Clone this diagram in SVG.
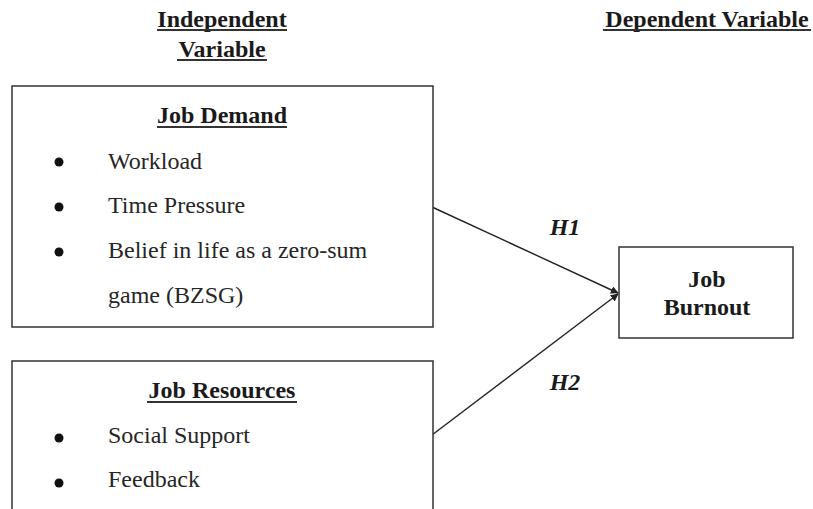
<svg xmlns="http://www.w3.org/2000/svg" width="813" height="509" viewBox="0 0 813 509">
<style>
.box{fill:#fff;stroke:#333;stroke-width:1.5}
.h{font-family:"Liberation Serif","Times New Roman",serif;font-weight:bold;font-size:24px;fill:#1a1a1a}
.t{font-family:"Liberation Serif","Times New Roman",serif;font-size:24px;fill:#262626}
.hi{font-family:"Liberation Serif","Times New Roman",serif;font-weight:bold;font-style:italic;font-size:24px;fill:#1a1a1a}
.ul{stroke:#333;stroke-width:2}
.bul{fill:#111}
.edge{stroke:#222;stroke-width:1.4;fill:none}
</style>
<defs>
<marker id="arr" viewBox="0 0 10 10" refX="9" refY="5" markerWidth="8" markerHeight="8" markerUnits="userSpaceOnUse" orient="auto">
<path d="M0,0 L10,5 L0,10 z" fill="#222"/>
</marker>
</defs>
<g id="labels">
<text class="h" x="222" y="27" text-anchor="middle">Independent</text>
<line class="ul" x1="157" y1="30" x2="287" y2="30"/>
<text class="h" x="222" y="57" text-anchor="middle">Variable</text>
<line class="ul" x1="177" y1="60" x2="267" y2="60"/>
<text class="h" x="707" y="27" text-anchor="middle">Dependent Variable</text>
<line class="ul" x1="603" y1="30" x2="811" y2="30"/>
</g>
<g id="connectors">
<line class="edge" x1="432" y1="207" x2="618" y2="293" marker-end="url(#arr)"/>
<line class="edge" x1="432" y1="435" x2="618" y2="294" marker-end="url(#arr)"/>
<text class="hi" x="565" y="235" text-anchor="middle">H1</text>
<text class="hi" x="565" y="390" text-anchor="middle">H2</text>
</g>
<g id="job-demand">
<rect class="box" x="12" y="86" width="421" height="241"/>
<text class="h" x="222" y="123" text-anchor="middle">Job Demand</text>
<line class="ul" x1="157" y1="127" x2="287" y2="127"/>
<circle class="bul" cx="59" cy="162" r="4.5"/>
<text class="t" x="108" y="169">Workload</text>
<circle class="bul" cx="59" cy="207" r="4.5"/>
<text class="t" x="108" y="213">Time Pressure</text>
<circle class="bul" cx="59" cy="252" r="4.5"/>
<text class="t" x="108" y="258">Belief in life as a zero-sum</text>
<text class="t" x="108" y="303">game (BZSG)</text>
</g>
<g id="job-resources">
<rect class="box" x="12" y="361" width="421" height="170"/>
<text class="h" x="222" y="398" text-anchor="middle">Job Resources</text>
<line class="ul" x1="147" y1="402" x2="297" y2="402"/>
<circle class="bul" cx="59" cy="438" r="4.5"/>
<text class="t" x="108" y="443">Social Support</text>
<circle class="bul" cx="59" cy="483" r="4.5"/>
<text class="t" x="108" y="487">Feedback</text>
</g>
<g id="job-burnout">
<rect class="box" x="619" y="247" width="174" height="91"/>
<text class="h" x="707" y="287" text-anchor="middle">Job</text>
<text class="h" x="707" y="315" text-anchor="middle">Burnout</text>
</g>
</svg>
